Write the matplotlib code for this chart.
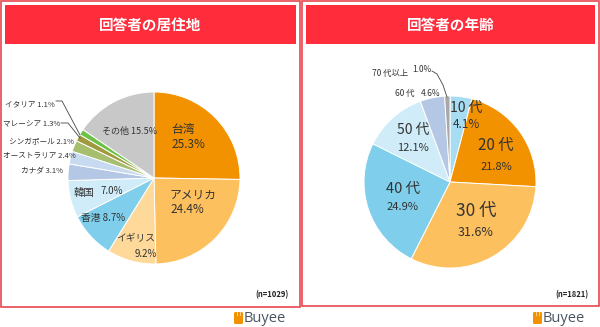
import matplotlib
matplotlib.use("Agg")
import matplotlib.pyplot as plt
from matplotlib.patches import Rectangle, FancyBboxPatch

plt.rcParams['font.family'] = ['Noto Sans CJK JP', 'DejaVu Sans']

# ---- data ----
residence_labels = ["台湾", "アメリカ", "イギリス", "香港", "韓国", "カナダ",
                    "オーストラリア", "シンガポール", "マレーシア", "イタリア", "その他"]
residence_values = [25.3, 24.4, 9.2, 8.7, 7.0, 3.1, 2.4, 2.1, 1.3, 1.1, 15.5]
residence_n = 1029

age_labels = ["10 代", "20 代", "30 代", "40 代", "50 代", "60 代", "70 代以上"]
age_values = [4.1, 21.8, 31.6, 24.9, 12.1, 4.6, 1.0]
age_n = 1821

titles = ["回答者の居住地", "回答者の年齢"]

# ---- styles ----
residence_colors = ["#F39200", "#FDC05E", "#FFD99A", "#7FCEEB", "#CFECF8", "#B4C7E5",
                    "#C7DAF0", "#A6BE6E", "#A09A3E", "#6CC244", "#C8C8C8"]
age_colors = ["#A6DDF2", "#F39200", "#FDC05E", "#7FCEEB", "#CFECF8", "#B4C7E5", "#A8A8A8"]
RED = "#FF2D3C"
BORDER = "#E8474F"
TXT = "#333333"

W, H = 600, 327
fig = plt.figure(figsize=(W / 100, H / 100), dpi=100)

# background layer (pixel coordinates, y downward)
bg = fig.add_axes([0, 0, 1, 1])
bg.set_xlim(0, W)
bg.set_ylim(H, 0)
bg.axis("off")

panels = [(1, 1, 299, 306), (302, 1, 297, 305)]
for (x0, y0, pw, ph), title in zip(panels, titles):
    bg.add_patch(Rectangle((x0, y0), pw, ph, fill=False, edgecolor=BORDER, lw=1.2))
    bg.add_patch(Rectangle((x0 + 4, y0 + 4), pw - 8, 39, facecolor=RED, edgecolor="none"))
    bg.text(x0 + pw / 2, y0 + 24, title, color="white", fontsize=10.5,
            fontweight="bold", ha="center", va="center")

# sample size notes
bg.text(289, 295, f"(n={residence_n})", fontsize=5.5, fontweight="bold",
        ha="right", va="center", color="#222222")
bg.text(588, 295, f"(n={age_n})", fontsize=5.5, fontweight="bold",
        ha="right", va="center", color="#222222")

# brand marks under each panel
for lx in (234, 533):
    bg.add_patch(FancyBboxPatch((lx, 312), 9, 12, boxstyle="round,pad=0,rounding_size=1.5",
                                facecolor="#F39200", edgecolor="none"))
    bg.add_patch(Rectangle((lx + 2.5, 312), 1.5, 4, facecolor="#FFD08A", edgecolor="none"))
    bg.add_patch(Rectangle((lx + 5.5, 312), 1.5, 4, facecolor="#FFD08A", edgecolor="none"))
    bg.text(lx + 10, 318.5, "Buyee", fontsize=10.5, color="#4A5560",
            ha="left", va="center", family="Open Sans")


def pie_axes(cx, cy, r):
    ax = fig.add_axes([(cx - r) / W, (H - cy - r) / H, 2 * r / W, 2 * r / H])
    return ax


wedge_style = dict(edgecolor="white", linewidth=0.7)

ax1 = pie_axes(154, 178, 86)
ax1.pie(residence_values, colors=residence_colors, startangle=90, counterclock=False,
        radius=1, wedgeprops=wedge_style)
ax1.set_xlim(-1, 1)
ax1.set_ylim(-1, 1)
ax1.axis("off")

ax2 = pie_axes(450, 182, 86)
ax2.pie(age_values, colors=age_colors, startangle=90, counterclock=False,
        radius=1, wedgeprops=wedge_style)
ax2.set_xlim(-1, 1)
ax2.set_ylim(-1, 1)
ax2.axis("off")

# overlay for labels and leader lines
ov = fig.add_axes([0, 0, 1, 1])
ov.set_xlim(0, W)
ov.set_ylim(H, 0)
ov.axis("off")
ov.patch.set_alpha(0)


def pct(v):
    return f"{v:.1f}%"


# residence labels: (x, y, size, two-line?, alignment)
res_layout = [
    (171, 137, 8.5, True, "left"),
    (170, 202, 8.5, True, "left"),
    (116, 246, 7, True, "left"),
    (103, 218, 7, False, "center"),
    (96, 191, 7.5, False, "center"),
    (63, 171, 5.5, False, "right"),
    (76, 156, 5.5, False, "right"),
    (74, 142, 5.5, False, "right"),
    (60, 124, 5.5, False, "right"),
    (55, 104, 5.5, False, "right"),
    (130, 131, 6.5, False, "center"),
]
for lab, val, (x, y, fs, two, ha) in zip(residence_labels, residence_values, res_layout):
    if two:
        if lab == "イギリス":
            ov.text(x, y - 8, lab, fontsize=fs, color=TXT, ha="left", va="center")
            ov.text(x + 19, y + 8, pct(val), fontsize=fs, color=TXT, ha="left", va="center")
        else:
            ov.text(x, y, f"{lab}\n{pct(val)}", fontsize=fs, color=TXT, ha=ha,
                    va="center", linespacing=1.15)
    elif lab == "韓国":
        ov.text(x - 12, y + 2, lab, fontsize=fs, color=TXT, ha="center", va="center")
        ov.text(x + 16, y, pct(val), fontsize=7, color=TXT, ha="center", va="center")
    else:
        ov.text(x, y, f"{lab} {pct(val)}", fontsize=fs, color=TXT, ha=ha, va="center")

# leader lines for the two thinnest slices
ov.plot([56, 62, 80], [101, 101, 135], color="#444444", lw=0.6)
ov.plot([61, 68, 80], [123, 123, 138], color="#444444", lw=0.6)

# age labels: (x, y, name size, pct size, gap)
age_layout = [
    (466, 116, 10, 8.5, 16),
    (496, 156, 11, 8, 22),
    (476, 222, 12.5, 9, 22),
    (403, 198, 10.5, 8, 19),
    (413, 139, 10, 8, 18),
]
for lab, val, (x, y, fs1, fs2, gap) in zip(age_labels, age_values, age_layout):
    ov.text(x, y - gap / 2, lab, fontsize=fs1, color=TXT, ha="center", va="center")
    ov.text(x, y + gap / 2, pct(val), fontsize=fs2, color=TXT, ha="center", va="center")

ov.text(405, 93, age_labels[5], fontsize=6, color=TXT, ha="center", va="center")
ov.text(431, 93, pct(age_values[5]), fontsize=6, color=TXT, ha="center", va="center")
ov.text(390, 73, age_labels[6], fontsize=6, color=TXT, ha="center", va="center")
ov.text(422, 69, pct(age_values[6]), fontsize=6, color=TXT, ha="center", va="center")
ov.plot([432, 437, 443, 447], [71, 74, 85, 97], color="#444444", lw=0.6)

fig.savefig("out.png", dpi=100)
